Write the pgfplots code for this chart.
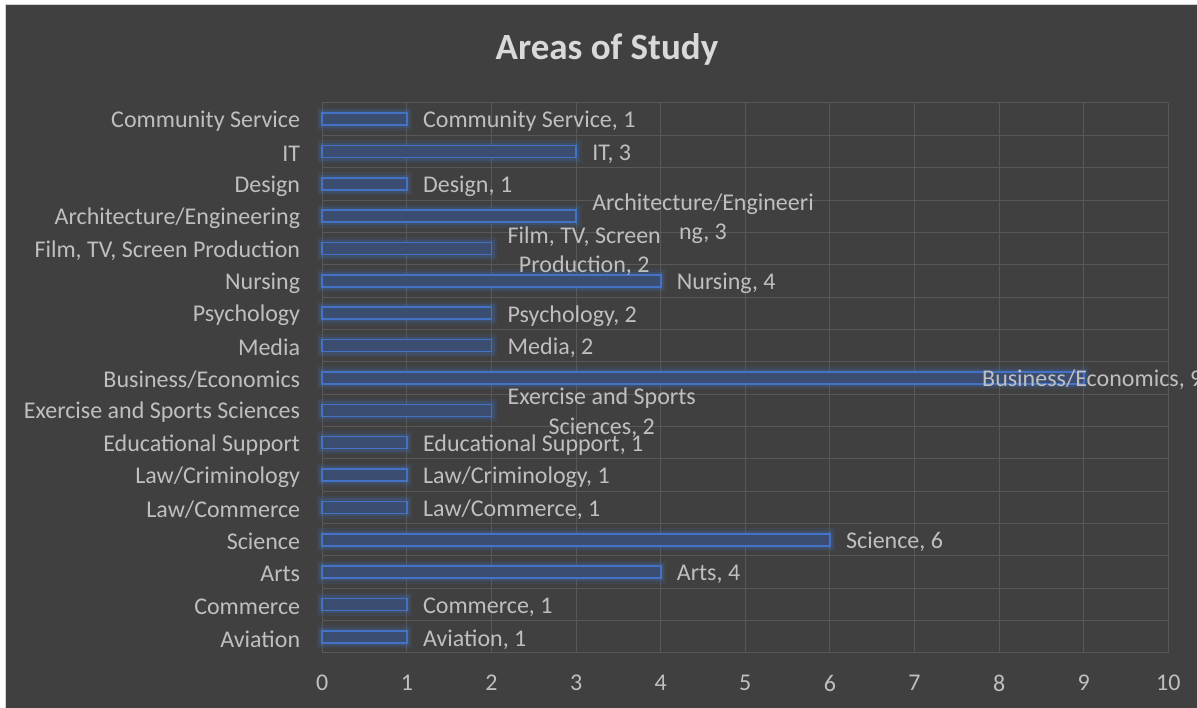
\documentclass[border=0pt]{standalone}
\usepackage{pgfplots}
\pgfplotsset{compat=1.18}
\usepackage{pgfplotstable}
\usepackage{fontspec}
\setmainfont{Carlito}
\definecolor{bg}{HTML}{404040}
\definecolor{gridc}{HTML}{585858}
\definecolor{txt}{HTML}{BFBFBF}
\definecolor{ttl}{HTML}{D9D9D9}
\definecolor{barline}{HTML}{4472C4}
\definecolor{barfill}{HTML}{3B4E72}
\def\NL{\\}
\pgfplotstableread[col sep=semicolon]{
y;x
0;1
1;1
2;4
3;6
4;1
5;1
6;1
7;2
8;9
9;2
10;2
11;4
12;2
13;3
14;1
15;3
16;1
}\bars
\pgfplotstableread[col sep=semicolon]{
y;x;label
0;1;Aviation, 1
1;1;Commerce, 1
2;4;Arts, 4
3;6;Science, 6
4;1;Law/Commerce, 1
5;1;Law/Criminology, 1
6;1;Educational Support, 1
7;2;Exercise and Sports\NL Sciences, 2
9;2;Media, 2
10;2;Psychology, 2
11;4;Nursing, 4
12;2;Film, TV, Screen\NL Production, 2
13;3;Architecture/Engineeri\NL ng, 3
14;1;Design, 1
15;3;IT, 3
16;1;Community Service, 1
}\labs
\pgfplotstableread[col sep=semicolon]{
y;x;label
8;9;Business/Economics, 9
}\biz
\begin{document}
\begin{tikzpicture}[x=1pt,y=1pt]
\useasboundingbox (0,0) rectangle (1197,708);
\fill[white] (0,0) rectangle (1197,708);
\fill[bg] (5.5,0) rectangle (1197,703.5);
\draw[gray!35, line width=0.8pt] (5.5,0) -- (5.5,703.5) -- (1197,703.5);
\node[font=\fontsize{37}{44}\selectfont\bfseries, text=ttl, anchor=base, inner sep=0pt] at (607,648) {Areas of Study};
\begin{axis}[
 at={(322.3pt,55pt)}, anchor=south west, scale only axis,
 width=846pt, height=550pt,
 xmin=0, xmax=10, ymin=-0.5, ymax=16.5,
 xtick={0,...,10}, ytick={0,...,16},
 yticklabels={Aviation,Commerce,Arts,Science,Law/Commerce,Law/Criminology,Educational Support,Exercise and Sports Sciences,Business/Economics,Media,Psychology,Nursing,{Film, TV, Screen Production},Architecture/Engineering,Design,IT,Community Service},
 minor ytick={-0.5,0.5,...,16.5},
 xmajorgrids, yminorgrids,
 major grid style={gridc, line width=1pt},
 minor grid style={gridc, line width=1pt},
 axis line style={draw=none},
 major tick length=0pt, minor tick length=0pt,
 tick style={draw=none},
 ticklabel style={font=\fontsize{24}{29}\selectfont, text=txt, inner sep=0pt},
 yticklabel style={xshift=-22pt, yshift=-2pt},
 xticklabel style={yshift=-22pt},
 /pgf/number format/assume math mode=true,
 xbar, bar width=12pt, bar shift=0pt,
 clip=false,
]
\addplot[draw=barline, draw opacity=0.12, line width=11pt, fill=none] table[x=x,y=y]{\bars};
\addplot[draw=barline, draw opacity=0.22, line width=6pt, fill=none] table[x=x,y=y]{\bars};
\addplot[draw=barline, line width=1.6pt, fill=barfill] table[x=x,y=y]{\bars};
\addplot[draw=none, fill=none, point meta=explicit symbolic, nodes near coords,
 every node near coord/.append style={font=\fontsize{24}{29.5}\selectfont, text=txt, inner sep=0pt, anchor=west, xshift=16pt, yshift=-2.5pt, align=center}]
 table[x=x,y=y,meta=label]{\labs};
\addplot[draw=none, fill=none, point meta=explicit symbolic, nodes near coords,
 every node near coord/.append style={font=\fontsize{24}{29}\selectfont, text=txt, inner sep=0pt, anchor=west, xshift=-101.7pt, yshift=-1.5pt}]
 table[x=x,y=y,meta=label]{\biz};
\end{axis}
\end{tikzpicture}
\end{document}
